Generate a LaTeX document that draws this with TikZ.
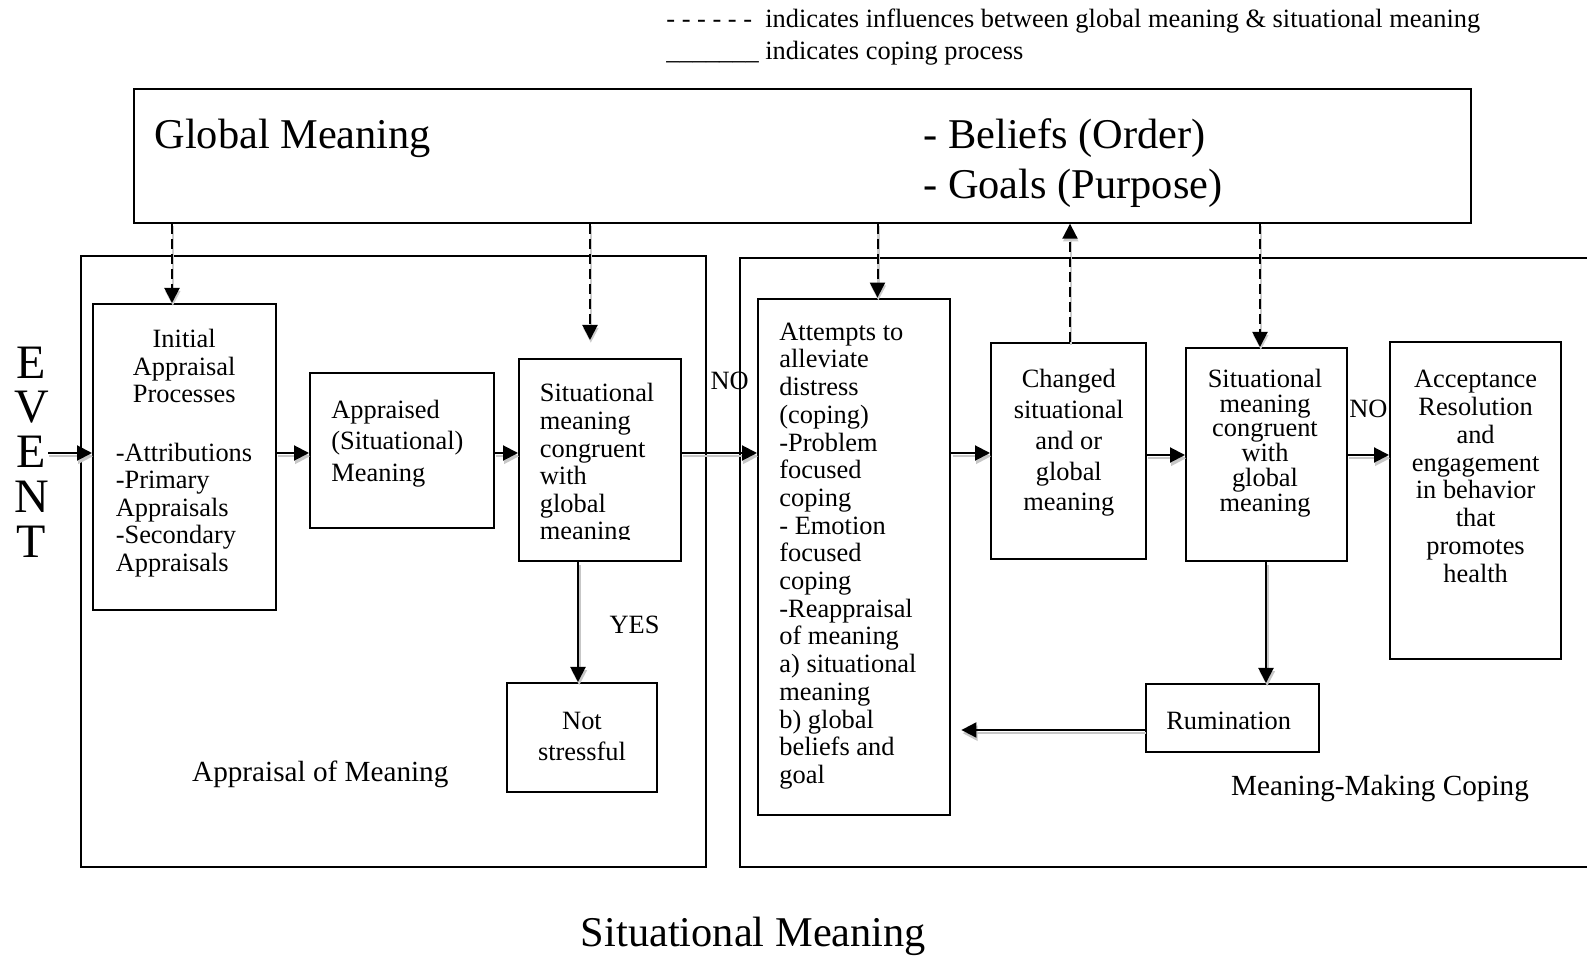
\documentclass[tikz,border=0pt]{standalone}
\usepackage{fontspec}
\setmainfont{Liberation Serif}
\usetikzlibrary{arrows.meta,fit}

\tikzset{
  box/.style={draw, line width=1pt, inner sep=0pt},
  txt/.style={inner sep=0pt, font=\fontsize{13.2}{13.8}\selectfont},
  lab/.style={inner sep=0pt, font=\fontsize{14.6}{16}\selectfont},
  big/.style={inner sep=0pt, font=\fontsize{21.2}{25}\selectfont},
  arr/.style={-{Triangle[length=7.5pt,width=7.5pt]}},
  flow/.style={line width=1pt, arr,
    preaction={draw=black!22, line width=1.3pt, arr, transform canvas={xshift=0.6pt,yshift=-1.6pt}}},
  infl/.style={line width=1pt, arr, dash pattern=on 5pt off 2.5pt,
    preaction={draw=black!20, solid, line width=1.2pt, arr, transform canvas={xshift=0.4pt,yshift=-1.4pt}}},
}

\begin{document}
\begin{tikzpicture}[x=0.5pt,y=-0.5pt]
\useasboundingbox (0,0) rectangle (1587,956);

% legend
\node[txt, anchor=base west] (leg1) at (666,27.5) {- - - - - -\ \ indicates influences between global meaning \& situational meaning};
\node[txt, anchor=base west] (leg2) at (666,59.5) {\_\_\_\_\_\_\_ indicates coping process};

% containers
\node[box, fit={(133.6,89)(1470.6,222.7)}] (global) {};
\node[box, fit={(81,256)(705.5,867)}] (appraisal) {};
\node[box, fit={(740,258)(1640,867)}] (coping) {};

% boxes
\node[box, fit={(93,304)(276,610)}] (init) {};
\node[box, fit={(310,373.5)(494,528)}] (appraised) {};
\node[box, fit={(519,359)(681,561)}] (sit) {};
\node[box, fit={(507,683)(657,792.5)}] (notstr) {};
\node[box, fit={(758,298.6)(950.4,814.7)}] (attempt) {};
\node[box, fit={(991,343)(1146,559)}] (changed) {};
\node[box, fit={(1186,348)(1347,561)}] (sit2) {};
\node[box, fit={(1390,342)(1561,659)}] (accept) {};
\node[box, fit={(1146,684)(1319,752)}] (rum) {};

% big texts
\node[big, anchor=base west] (gm) at (154,149) {Global Meaning};
\node[big, anchor=base west] (bel) at (923,149) {- Beliefs (Order)};
\node[big, anchor=base west] (goa) at (923,198.5) {- Goals (Purpose)};
\node[big, anchor=base] (smlab) at (753.5,947) {Situational Meaning};

% EVENT
\node[inner sep=0pt, align=center, font=\fontsize{24}{22.4}\selectfont] (event) at (31.4,452) {E\\V\\E\\N\\T};

% box texts
\node[txt, align=center] (initt1) at (184.2,366) {Initial\\Appraisal\\Processes};
\node[txt, align=left, anchor=west] (initt2) at (115.4,510) {-Attributions\\-Primary\\Appraisals\\-Secondary\\Appraisals};
\node[txt, align=left, anchor=west, font=\fontsize{13.2}{15.7}\selectfont] (appt) at (331,443.5) {Appraised\\(Situational)\\Meaning};
\begin{scope}
\clip (519,359) rectangle (681,540);
\node[txt, align=left, anchor=west] (sitt) at (539.5,464.5) {Situational\\meaning\\congruent\\with\\global\\meaning};
\end{scope}
\node[txt, align=center, font=\fontsize{13.2}{15.2}\selectfont] (nst) at (582,736.5) {Not\\stressful};
\node[txt, align=left, anchor=west, font=\fontsize{13.2}{13.85}\selectfont] (att) at (779,556) {Attempts to\\alleviate\\distress\\(coping)\\-Problem\\focused\\coping\\- Emotion\\focused\\coping\\-Reappraisal\\of meaning\\a) situational\\meaning\\b) global\\beliefs and\\goal};
\node[txt, align=center, font=\fontsize{13.2}{15.4}\selectfont] (cht) at (1068.8,443) {Changed\\situational\\and or\\global\\meaning};
\node[txt, align=center, font=\fontsize{13.2}{12.35}\selectfont] (sit2t) at (1265,443) {Situational\\meaning\\congruent\\with\\global\\meaning};
\node[txt, align=center, font=\fontsize{13.2}{13.9}\selectfont] (acct) at (1475.6,476.5) {Acceptance\\Resolution\\and\\engagement\\in behavior\\that\\promotes\\health};
\node[txt] (rumt) at (1228.7,721) {Rumination};

% labels
\node[txt] (no1) at (729.7,381) {NO};
\node[txt] (no2) at (1368.4,408.5) {NO};
\node[txt] (yes) at (634.6,625) {YES};
\node[lab] (aplab) at (320.3,774) {Appraisal of Meaning};
\node[lab] (mmlab) at (1380,788.5) {Meaning-Making Coping};

% helper coordinates
\coordinate (evs) at (48,453);
\coordinate (rowA) at (0,453);
\coordinate (rowB) at (0,455);
\coordinate (rowR) at (0,730);
\coordinate (c1) at (172,0);
\coordinate (c2) at (590,0);
\coordinate (c3) at (877.5,0);
\coordinate (c4) at (1070,0);
\coordinate (c5) at (1260,0);
\coordinate (c6) at (578,0);
\coordinate (c7) at (1266,0);

% solid connectors
\draw[flow] (evs) -- (evs -| init.west);
\draw[flow] (init.east |- rowA) -- (appraised.west |- rowA);
\draw[flow] (appraised.east |- rowA) -- (sit.west |- rowA);
\draw[flow] (sit.east |- rowA) -- (attempt.west |- rowA);
\draw[flow] (sit.south -| c6) -- (notstr.north -| c6);
\draw[flow] (attempt.east |- rowA) -- (changed.west |- rowA);
\draw[flow] (changed.east |- rowB) -- (sit2.west |- rowB);
\draw[flow] (sit2.east |- rowB) -- (accept.west |- rowB);
\draw[flow] (sit2.south -| c7) -- (rum.north -| c7);
\draw[flow, shorten >=5pt] (rum.west |- rowR) -- (attempt.east |- rowR);

% dashed influences
\draw[infl] (global.south -| c1) -- (init.north -| c1);
\draw[infl, shorten >=9pt] (global.south -| c2) -- (sit.north -| c2);
\draw[infl] (global.south -| c3) -- (attempt.north -| c3);
\draw[infl] (changed.north -| c4) -- (global.south -| c4);
\draw[infl] (global.south -| c5) -- (sit2.north -| c5);
\end{tikzpicture}
\end{document}
